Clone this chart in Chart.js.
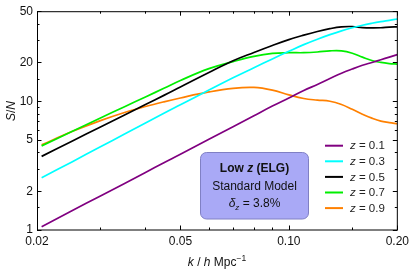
<!DOCTYPE html>
<html>
<head>
<meta charset="utf-8">
<script src="https://cdn.jsdelivr.net/npm/chart.js@4"></script>
<style>
  html, body { margin: 0; padding: 0; background: #fff; }
</style>
</head>
<body>
<canvas id="c" width="413" height="270"></canvas>
<script>
// wavenumber k [h/Mpc]
const kVals = [0.0206, 0.025, 0.03, 0.035, 0.04, 0.045, 0.05, 0.06, 0.07, 0.08, 0.09,
  0.10, 0.11, 0.12, 0.13, 0.14, 0.15, 0.16, 0.17, 0.18, 0.19, 0.20];

// S/N per redshift bin
const snZ01 = [1.06, 1.41, 1.84, 2.30, 2.80, 3.33, 3.87, 5.07, 6.34, 7.72, 9.17,
  10.6, 12.1, 13.5, 15.0, 16.5, 17.8, 19.0, 20.0, 21.0, 22.0, 23.0];
const snZ03 = [2.55, 3.38, 4.43, 5.56, 6.77, 8.07, 9.39, 12.2, 15.2, 18.2, 21.3,
  24.4, 27.5, 30.3, 32.9, 35.2, 37.2, 38.9, 40.3, 41.5, 42.5, 43.5];
const snZ05 = [3.73, 4.89, 6.31, 7.83, 9.44, 11.1, 12.9, 16.7, 20.6, 23.9, 27.1,
  30.1, 32.6, 34.8, 36.6, 37.8, 38.0, 37.3, 37.1, 37.2, 37.6, 37.8];
const snZ07 = [4.50, 5.81, 7.40, 9.07, 10.8, 12.6, 14.5, 17.9, 20.3, 22.3, 23.5,
  23.8, 23.8, 24.1, 24.6, 24.6, 23.6, 22.0, 20.7, 20.0, 19.6, 19.4];
const snZ09 = [4.58, 5.81, 7.07, 8.17, 9.09, 9.89, 10.6, 11.8, 12.6, 12.8, 12.2,
  11.2, 10.5, 10.2, 10.0, 9.44, 8.65, 7.93, 7.39, 7.01, 6.83, 6.68];

const zLabels = ['0.1', '0.3', '0.5', '0.7', '0.9'];
const zColors = ['#800080', '#00FFFF', '#000000', '#00EE00', '#FF8000'];
const series = [snZ01, snZ03, snZ05, snZ07, snZ09];

// axis ticks
const xMajor = [0.02, 0.05, 0.1, 0.2];
const xMajorLabels = ['0.02', '0.05', '0.10', '0.20'];
const xMinor = [0.03, 0.04, 0.06, 0.07, 0.08, 0.09, 0.15];
const yMajor = [1, 2, 5, 10, 20, 50];
const yMajorLabels = ['1', '2', '5', '10', '20', '50'];
const yMinor = [1.5, 3, 4, 6, 7, 8, 9, 15, 30, 40];

const FONT = '"Liberation Sans", Arial, sans-serif';

const datasets = series.map((vals, i) => ({
  label: 'z = ' + zLabels[i],
  data: vals.map((v, j) => ({ x: kVals[j], y: v })),
  borderColor: zColors[i],
  borderWidth: 1.7,
  pointRadius: 0,
  fill: false,
  tension: 0.4
}));

function drawParts(ctx, parts, x, y, align) {
  // parts: [text, font, dy]
  let total = 0;
  parts.forEach(p => { ctx.font = p[1]; total += ctx.measureText(p[0]).width; });
  let cx = align === 'center' ? x - total / 2 : x;
  ctx.textAlign = 'left';
  parts.forEach(p => {
    ctx.font = p[1];
    ctx.fillText(p[0], cx, y + (p[2] || 0));
    cx += ctx.measureText(p[0]).width;
  });
}

const decor = {
  id: 'decor',
  afterDatasetsDraw(chart) {
    const { ctx, chartArea: a, scales } = chart;
    const xs = scales.x, ys = scales.y;
    ctx.save();

    // frame
    ctx.strokeStyle = '#000';
    ctx.lineWidth = 1;
    ctx.strokeRect(a.left + 0.5, a.top + 0.5, a.right - a.left - 0.5, a.bottom - a.top - 0.5);

    // inward ticks on all four sides
    ctx.beginPath();
    xMajor.concat(xMinor).forEach(v => {
      const px = Math.round(xs.getPixelForValue(v)) + 0.5;
      const len = xMajor.includes(v) ? 4.5 : 2.5;
      ctx.moveTo(px, a.bottom); ctx.lineTo(px, a.bottom - len);
      ctx.moveTo(px, a.top); ctx.lineTo(px, a.top + len);
    });
    yMajor.concat(yMinor).forEach(v => {
      const py = Math.round(ys.getPixelForValue(v)) + 0.5;
      const len = yMajor.includes(v) ? 4.5 : 2.5;
      ctx.moveTo(a.left, py); ctx.lineTo(a.left + len, py);
      ctx.moveTo(a.right, py); ctx.lineTo(a.right - len, py);
    });
    ctx.stroke();

    // legend
    ctx.fillStyle = '#222';
    ctx.textBaseline = 'middle';
    zLabels.forEach((z, i) => {
      const ly = 145.7 + i * 15.6;
      ctx.strokeStyle = zColors[i];
      ctx.lineWidth = 2;
      ctx.beginPath();
      ctx.moveTo(325, ly); ctx.lineTo(343, ly);
      ctx.stroke();
      drawParts(ctx, [['z', 'italic 11.5px ' + FONT], [' = ' + z, '11.5px ' + FONT]], 350, ly + 0.5, 'left');
    });

    // info box
    ctx.beginPath();
    ctx.roundRect(200.5, 152.5, 108, 66.5, 6);
    ctx.fillStyle = '#A9A9F6';
    ctx.fill();
    ctx.strokeStyle = '#8080C4';
    ctx.lineWidth = 1;
    ctx.stroke();
    ctx.fillStyle = '#111';
    ctx.textBaseline = 'alphabetic';
    drawParts(ctx, [['Low ', 'bold 12px ' + FONT], ['z', 'bold italic 12px ' + FONT], [' (ELG)', 'bold 12px ' + FONT]], 254.5, 172, 'center');
    drawParts(ctx, [['Standard Model', '12px ' + FONT]], 254.5, 190, 'center');
    drawParts(ctx, [['\u03B4', 'italic 12px ' + FONT], ['z', 'italic 8px ' + FONT, 2.5], [' = 3.8%', '12px ' + FONT]], 254.5, 207, 'center');

    // axis titles
    ctx.fillStyle = '#111';
    drawParts(ctx, [['k', 'italic 12px ' + FONT], [' / ', '12px ' + FONT], ['h', 'italic 12px ' + FONT],
      [' Mpc', '12px ' + FONT], ['\u22121', '8.5px ' + FONT, -5]], 217, 266, 'center');
    ctx.translate(15, 111);
    ctx.rotate(-Math.PI / 2);
    drawParts(ctx, [['S', 'italic 12px ' + FONT], ['/', '12px ' + FONT], ['N', 'italic 12px ' + FONT]], 0, 0, 'center');
    ctx.restore();
  }
};

new Chart(document.getElementById('c'), {
  type: 'line',
  data: { datasets },
  plugins: [decor],
  options: {
    responsive: false,
    animation: false,
    devicePixelRatio: 1,
    layout: { padding: { top: 7, right: 15, left: 0, bottom: 0 } },
    plugins: { legend: { display: false }, tooltip: { enabled: false } },
    scales: {
      x: {
        type: 'logarithmic',
        min: 0.02,
        max: 0.2,
        bounds: 'data',
        border: { display: false },
        grid: { display: false, drawTicks: false },
        afterBuildTicks: s => { s.ticks = xMajor.concat(xMinor).sort((p, q) => p - q).map(v => ({ value: v })); },
        afterFit: s => { s.height = 40; },
        ticks: {
          autoSkip: false,
          maxRotation: 0,
          padding: 4,
          color: '#111',
          font: { family: FONT, size: 12 },
          callback: v => { const i = xMajor.indexOf(v); return i >= 0 ? xMajorLabels[i] : ''; }
        }
      },
      y: {
        type: 'logarithmic',
        min: 1,
        max: 50,
        bounds: 'data',
        border: { display: false },
        grid: { display: false, drawTicks: false },
        afterBuildTicks: s => { s.ticks = yMajor.concat(yMinor).sort((p, q) => p - q).map(v => ({ value: v })); },
        afterFit: s => { s.width = 37; },
        ticks: {
          autoSkip: false,
          padding: 4,
          color: '#111',
          font: { family: FONT, size: 12 },
          callback: v => { const i = yMajor.indexOf(v); return i >= 0 ? yMajorLabels[i] : ''; }
        }
      }
    }
  }
});
</script>
</body>
</html>
